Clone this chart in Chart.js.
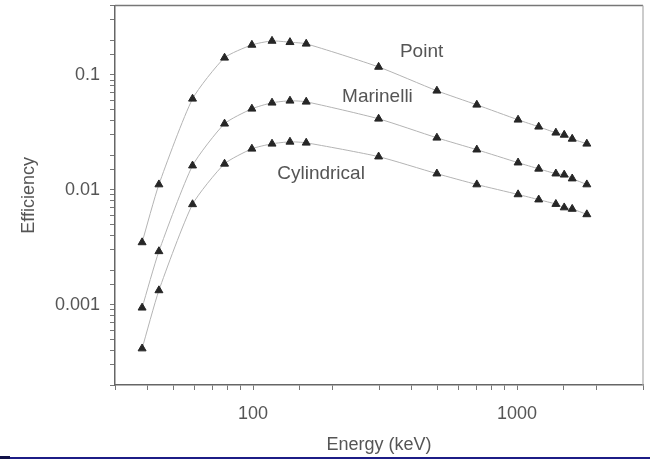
<!DOCTYPE html>
<html><head><meta charset="utf-8">
<script src="https://cdn.jsdelivr.net/npm/chart.js@4/dist/chart.umd.min.js"></script>
<style>
html,body{margin:0;padding:0;background:#fff;}
#wrap{position:relative;width:650px;height:460px;overflow:hidden;background:#fff;}
canvas{display:block;}
#rule{position:absolute;left:0;top:457px;width:650px;height:2px;background:#1c1c86;}
#rule2{position:absolute;left:0;top:456px;width:10px;height:3px;background:#111148;}
</style></head><body>
<div id="wrap"><canvas id="c" width="650" height="457"></canvas><div id="rule"></div><div id="rule2"></div></div>
<script>
const energies = [38, 44, 59, 78, 99, 118, 138, 159, 299, 497, 704, 1009, 1208, 1403, 1509, 1618, 1838];
const pointEff = [0.00348, 0.0111, 0.0618, 0.1405, 0.182, 0.197, 0.192, 0.186, 0.117, 0.0726, 0.0548, 0.0406, 0.0353, 0.0313, 0.0300, 0.0277, 0.0251];
const marinelliEff = [0.00094, 0.00291, 0.0162, 0.0375, 0.0506, 0.0571, 0.0594, 0.0582, 0.0414, 0.0283, 0.0223, 0.0172, 0.0152, 0.0138, 0.0135, 0.0125, 0.0111];
const cylindricalEff = [0.000415, 0.00133, 0.00746, 0.0168, 0.0227, 0.0251, 0.0261, 0.0256, 0.0194, 0.0138, 0.0111, 0.0091, 0.0082, 0.0075, 0.0070, 0.0068, 0.0061];
const xTickLabels = [100, 1000];
const yTickLabels = [0.001, 0.01, 0.1];
const seriesNames = ['Point', 'Marinelli', 'Cylindrical'];
const labelEnergy = [435, 296, 181];
const labelEff = [0.158, 0.0644, 0.0138];

const FONT = '"Liberation Sans", Arial, sans-serif';
const TEXT = '#555';

function pts(vals){ return energies.map((e,i)=>({x:e, y:vals[i]})); }
function isOneOf(v, list){ return list.some(t => Math.abs(Math.log10(v) - Math.log10(t)) < 1e-6); }

function ds(vals){
  return {
    data: pts(vals), showLine: true,
    borderColor: '#b4b4b4', borderWidth: 1, tension: 0.2,
    pointStyle: 'triangle', pointRadius: 4.6,
    pointBackgroundColor: '#262626', pointBorderColor: '#262626', pointBorderWidth: 1
  };
}

const decor = {
  id: 'decor',
  afterDatasetsDraw(chart){
    const {ctx, chartArea: a, scales: {x, y}} = chart;
    ctx.save();
    ctx.strokeStyle = '#777'; ctx.lineWidth = 1.5;
    ctx.beginPath(); ctx.moveTo(a.left, a.top); ctx.lineTo(a.right, a.top); ctx.stroke();
    ctx.strokeStyle = '#aaa'; ctx.lineWidth = 1.2;
    ctx.beginPath(); ctx.moveTo(a.right, a.top); ctx.lineTo(a.right, a.bottom); ctx.stroke();
    ctx.fillStyle = TEXT; ctx.font = '19px ' + FONT;
    ctx.textAlign = 'center'; ctx.textBaseline = 'middle';
    seriesNames.forEach((n, i) => ctx.fillText(n, x.getPixelForValue(labelEnergy[i]), y.getPixelForValue(labelEff[i])));
    ctx.restore();
  }
};

new Chart(document.getElementById('c'), {
  type: 'scatter',
  data: { datasets: [ds(pointEff), ds(marinelliEff), ds(cylindricalEff)] },
  options: {
    responsive: false, animation: false,
    layout: { padding: { top: 4, right: 7, left: 0, bottom: 0 } },
    plugins: { legend: { display: false }, tooltip: { enabled: false } },
    scales: {
      x: {
        type: 'logarithmic', min: 30, max: 3000, position: 'bottom',
        afterFit(s){ s.height = 72; s.paddingLeft = 0; s.paddingRight = 0; },
        border: { color: '#666', width: 1.5 },
        grid: { drawOnChartArea: false, drawTicks: true, tickLength: 5, tickColor: '#777' },
        ticks: { autoSkip: false, maxRotation: 0, padding: 13, color: TEXT, font: { size: 18, family: FONT },
          callback: v => isOneOf(v, xTickLabels) ? String(v) : '' },
        title: { display: true, text: 'Energy (keV)', color: TEXT, font: { size: 18, family: FONT }, padding: { top: 0, bottom: 1 } }
      },
      y: {
        type: 'logarithmic', min: 0.0002, max: 0.4, position: 'left',
        afterFit(s){ s.width = 115; s.paddingTop = 0; s.paddingBottom = 0; },
        border: { color: '#666', width: 1.5 },
        grid: { drawOnChartArea: false, drawTicks: true, tickLength: 5, tickColor: '#777' },
        ticks: { autoSkip: false, padding: 10, color: TEXT, font: { size: 18, family: FONT },
          callback: v => isOneOf(v, yTickLabels) ? String(v) : '' },
        title: { display: true, text: 'Efficiency', color: TEXT, font: { size: 18, family: FONT }, padding: { top: 18, bottom: 0 } }
      }
    }
  },
  plugins: [decor]
});
</script>
</body></html>
